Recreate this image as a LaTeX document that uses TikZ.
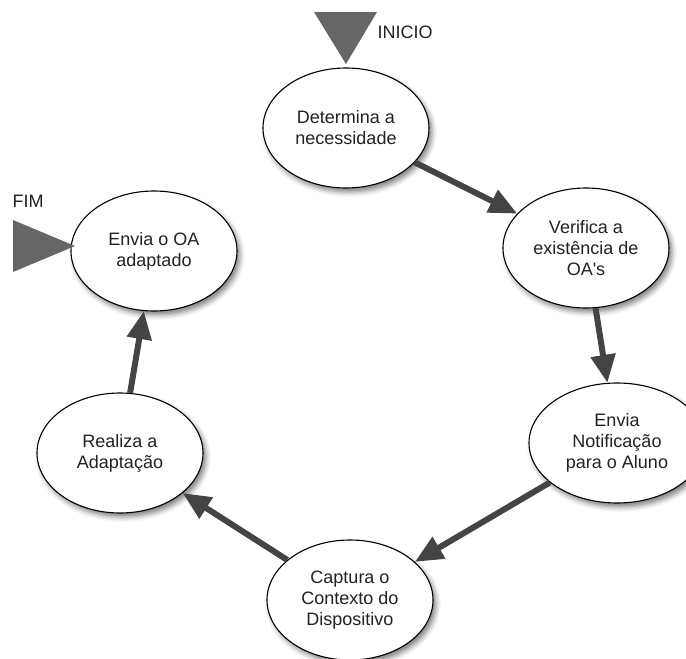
\documentclass[tikz,border=0pt]{standalone}
\usepackage{fontspec}
\setmainfont{Liberation Sans}
\usetikzlibrary{shapes.geometric,arrows.meta,shadows.blur}
\definecolor{arrowgray}{HTML}{444444}
\definecolor{markergray}{HTML}{666666}
\definecolor{inkgray}{HTML}{222222}
\begin{document}
\begin{tikzpicture}[x=1pt,y=-1pt,
  stage/.style={ellipse, draw=black, line width=1.1pt, fill=white,
    minimum width=166pt, minimum height=120pt, inner sep=0pt, align=center,
    font=\fontsize{18}{21}\selectfont, text=inkgray,
    blur shadow={shadow xshift=3pt, shadow yshift=-4pt,
      shadow blur radius=5pt, shadow opacity=50}},
  flow/.style={draw=arrowgray, line width=6pt,
    -{Triangle[length=28pt,width=24pt]}},
  marker/.style={fill=markergray},
  tag/.style={font=\fontsize{18}{21}\selectfont, text=inkgray, inner sep=0pt}]
  \useasboundingbox (0,0) rectangle (686,659);
  \clip (0,0) rectangle (686,659);

  % process stages
  \node[stage] (det) at (346,128) {Determina a\\necessidade};
  \node[stage] (ver) at (586,248) {Verifica a\\existência de\\OA\textquotesingle s};
  \node[stage, minimum width=176pt] (not) at (617,443) {Envia\\Notificação\\para o Aluno};
  \node[stage] (cap) at (350,600) {Captura o\\Contexto do\\Dispositivo};
  \node[stage] (rea) at (120,453) {Realiza a\\Adaptação};
  \node[stage] (env) at (154,251) {Envia o OA\\adaptado};

  % start and end markers
  \path[marker] (314,12) -- (377,12) -- (346,64) -- cycle;
  \node[tag] (inicio) at (405,32) {INICIO};
  \path[marker] (13,220) -- (13,272) -- (75,246) -- cycle;
  \node[tag] (fim) at (28,201) {FIM};

  % flow between stages
  \draw[flow] (det) -- (ver);
  \draw[flow] (ver) -- (not);
  \draw[flow] (not) -- (cap);
  \draw[flow] (cap) -- (rea);
  \draw[flow] (rea) -- (env);
\end{tikzpicture}
\end{document}
